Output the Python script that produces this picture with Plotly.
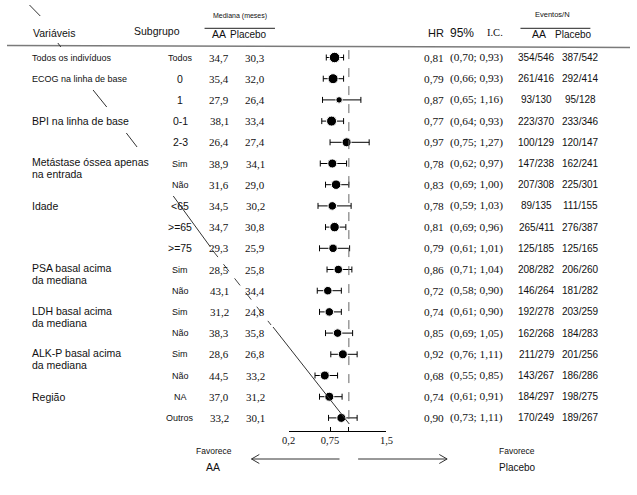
import plotly.graph_objects as go

W, H = 637, 495

# ---------------- data ----------------
variables = ["Todos os indivíduos", "ECOG na linha de base", "BPI na linha de base",
             "Metástase óssea apenas|na entrada", "Idade", "PSA basal acima|da mediana",
             "LDH basal acima|da mediana", "ALK-P basal acima|da mediana", "Região"]
variable_rows = [0, 1, 3, 5, 7, 10, 12, 14, 16]
subgroups = ["Todos", "0", "1", "0-1", "2-3", "Sim", "Não", "<65", ">=65", ">=75",
             "Sim", "Não", "Sim", "Não", "Sim", "Não", "NA", "Outros"]
median_aa = ["34,7", "35,4", "27,9", "38,1", "26,4", "38,9", "31,6", "34,5", "34,7", "29,3",
             "28,5", "43,1", "31,2", "38,3", "28,6", "44,5", "37,0", "33,2"]
median_pl = ["30,3", "32,0", "26,4", "33,4", "27,4", "34,1", "29,0", "30,2", "30,8", "25,9",
             "25,8", "34,4", "24,8", "35,8", "26,8", "33,2", "31,2", "30,1"]
hr = [0.81, 0.79, 0.87, 0.77, 0.97, 0.78, 0.83, 0.78, 0.81, 0.79,
      0.86, 0.72, 0.74, 0.85, 0.92, 0.68, 0.74, 0.90]
ci_lo = [0.70, 0.66, 0.65, 0.64, 0.75, 0.62, 0.69, 0.59, 0.69, 0.61,
         0.71, 0.58, 0.61, 0.69, 0.76, 0.55, 0.61, 0.73]
ci_hi = [0.93, 0.93, 1.16, 0.93, 1.27, 0.97, 1.00, 1.03, 0.96, 1.01,
         1.04, 0.90, 0.90, 1.05, 1.11, 0.85, 0.91, 1.11]
events_aa = ["354/546", "261/416", "93/130", "223/370", "100/129", "147/238", "207/308",
             "89/135", "265/411", "125/185", "208/282", "146/264", "192/278", "162/268",
             "211/279", "143/267", "184/297", "170/249"]
events_pl = ["387/542", "292/414", "95/128", "233/346", "120/147", "162/241", "225/301",
             "111/155", "276/387", "125/165", "206/260", "181/282", "203/259", "184/283",
             "201/256", "186/286", "198/275", "189/267"]
x_ticks = [0.2, 0.75, 1.0, 1.5]
x_tick_labels = ["0,2", "0,75", "", "1,5"]

# ---------------- style ----------------
marker_sizes = [10.5, 10, 6.5, 10, 9, 9, 9.5, 8.5, 9.5, 8.5, 8.5, 8.5, 8.5, 8.5, 9, 9, 9, 9]
SANS = "Liberation Sans, Arial, sans-serif"
SERIF = "Liberation Serif, Times New Roman, serif"
ROW0, ROWSTEP = 57.5, 21.2          # pixel centre of first row, row spacing
rows = list(range(len(subgroups)))


def fx(px):
    return px / W


def fy(py):
    return 1 - py / H


def comma(v):
    return f"{v:.2f}".replace(".", ",")


fig = go.Figure()
fig.add_trace(go.Scatter(
    x=hr, y=rows, mode="markers",
    marker=dict(color="black", size=marker_sizes, symbol="circle", opacity=1),
    error_x=dict(type="data", symmetric=False,
                 array=[h - v for v, h in zip(hr, ci_hi)],
                 arrayminus=[v - l for v, l in zip(hr, ci_lo)],
                 color="black", thickness=1, width=3),
    cliponaxis=False, showlegend=False, hoverinfo="skip"))

ann = []


def txt(x, y, s, size, font=SANS, xanchor="center", yref="y", color="#111"):
    ann.append(dict(x=fx(x), xref="paper", y=y, yref=yref, text=s, showarrow=False,
                    xanchor=xanchor, yanchor="middle", borderpad=0,
                    font=dict(family=font, size=size, color=color)))


# row texts
for i in rows:
    sg = subgroups[i]
    txt(177, i, sg, 9 if sg.isalpha() else 10.5)
    txt(217, i, median_aa[i], 11, SERIF)
    txt(254, i, median_pl[i], 11, SERIF)
    txt(436.5, i, comma(hr[i]), 11.3, SERIF)
    txt(480, i, f"({comma(ci_lo[i])}; {comma(ci_hi[i])})", 11.3, SERIF)
    txt(541.5, i, events_aa[i], 10)
    txt(586, i, events_pl[i], 10)

# variable labels
for name, r in zip(variables, variable_rows):
    lines = name.split("|")
    size = 9 if r < 2 else 10.5
    for k, ln in enumerate(lines):
        txt(25, r - (0.05 if len(lines) > 1 else 0) + 0.56 * k, ln, size, xanchor="left")

# headers (paper coords)
txt(26, fy(33), "Variáveis", 10.5, xanchor="left", yref="paper")
txt(129, fy(31), "Subgrupo", 10.5, xanchor="left", yref="paper")
txt(238, fy(16), "Mediana (meses)", 7, yref="paper")
txt(217, fy(34), "AA", 10.5, yref="paper")
txt(247, fy(34), "Placebo", 10, yref="paper")
txt(429, fy(33), "HR", 11, xanchor="left", yref="paper")
txt(451.5, fy(33), "95%", 12, xanchor="left", yref="paper")
txt(490, fy(33), "I.C.", 10.5, SERIF, xanchor="left", yref="paper")
txt(558, fy(15), "Eventos/N", 7.5, yref="paper")
txt(543.5, fy(34), "AA", 10.5, yref="paper")
txt(579, fy(34), "Placebo", 10, yref="paper")
txt(212, fy(451), "Favorece", 8.5, yref="paper")
txt(211, fy(467), "AA", 10.5, yref="paper")
txt(521, fy(451), "Favorece", 8.5, yref="paper")
txt(522, fy(467), "Placebo", 10, yref="paper")

shapes = []


def pline(x0, y0, x1, y1, color="#222", width=1, dash="solid"):
    shapes.append(dict(type="line", xref="paper", yref="paper",
                       x0=fx(x0), y0=fy(y0), x1=fx(x1), y1=fy(y1),
                       line=dict(color=color, width=width, dash=dash)))


def ppath(pts, color="#333", width=1):
    d = "M " + " L ".join(f"{fx(a):.5f},{fy(b):.5f}" for a, b in pts)
    shapes.append(dict(type="path", xref="paper", yref="paper", path=d,
                       line=dict(color=color, width=width)))


pline(0, 45.5, 637, 47.5, color="#7a7a7a", width=1.5)
pline(202, 28.3, 274, 28.3, width=1)
pline(525, 28.3, 596.5, 28.3, width=1)
# arrows
pline(340, 459, 250, 459, color="#333")
ppath([(258, 454.5), (250, 459), (258, 463.5)])
pline(359, 459, 450, 459, color="#333")
ppath([(442, 454.5), (450, 459), (442, 463.5)])
# stray pen strokes
pline(23, 5, 34, 16, color="#333")
pline(52, 43, 55, 47, color="#333")
pline(88, 90, 102, 107, color="#333")
pline(122, 133, 133, 147, color="#333")
pline(170, 196, 208, 247, color="#333")
pline(210, 250, 270, 325, color="#444", dash="dash")
pline(272, 327, 350, 424, color="#333")

# reference line at HR = 1
shapes.append(dict(type="line", xref="x", yref="y", x0=1, x1=1, y0=-0.35, y1=17.45,
                   line=dict(color="#666", width=1, dash="dash")))

fig.update_layout(
    width=W, height=H, margin=dict(l=0, r=0, t=0, b=0),
    paper_bgcolor="white", plot_bgcolor="white", hovermode=False,
    xaxis=dict(domain=[fx(288), fx(388)], range=[0.2, 1.5], anchor="free",
               position=fy(430.7), showline=True, linecolor="black", linewidth=1,
               ticks="inside", ticklen=4, tickcolor="black", tickwidth=1,
               tickvals=x_ticks, ticktext=x_tick_labels,
               tickfont=dict(family=SERIF, size=10.5, color="#111"),
               showgrid=False, zeroline=False, fixedrange=True),
    yaxis=dict(domain=[0, 1],
               range=[(H - ROW0) / ROWSTEP, -ROW0 / ROWSTEP],
               visible=False, fixedrange=True),
    annotations=ann, shapes=shapes, showlegend=False,
)

fig.write_html("out.html", config={"displayModeBar": False, "staticPlot": True},
               post_script="document.body.style.margin='0';document.body.style.overflow='hidden';")
